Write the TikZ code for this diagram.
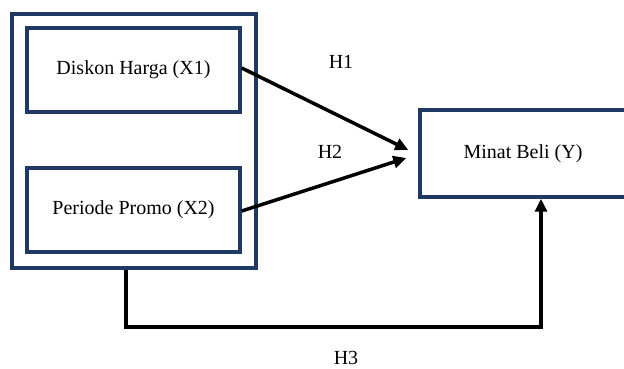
\documentclass[tikz,border=0pt]{standalone}
\usepackage{fontspec}
\setmainfont{Liberation Serif}
\usepackage{xcolor}
\usetikzlibrary{arrows.meta,positioning}
\definecolor{modelNavy}{HTML}{203864}

\begin{document}
\begin{tikzpicture}[
  x=1pt, y=1pt,
  every node/.style={align=center, font=\fontsize{20}{24}\selectfont},
  varbox/.style={draw=modelNavy, line width=3.5pt, minimum width=213pt, minimum height=84pt, inner sep=0pt},
  groupbox/.style={draw=modelNavy, line width=3.5pt, minimum width=244pt, minimum height=254pt, inner sep=0pt},
  ybox/.style={draw=modelNavy, line width=3.5pt, minimum width=212pt, minimum height=87pt, inner sep=0pt},
  hyp/.style={-{Triangle[length=13pt,width=12pt]}, line width=3.5pt, black},
]
  \useasboundingbox (0,0) rectangle (624,369);
  \node[groupbox] (grp) at (134,228) {};
  \node[varbox] (x1) at (133.5,299) {Diskon Harga (X1)};
  \node[varbox] (x2) at (133.5,159) {Periode Promo (X2)};
  \node[ybox] (y) at (526,215.5) {\hspace*{-6pt}Minat Beli (Y)};

  \node (h1) at (341,307) {H1};
  \node (h2) at (330,217) {H2};
  \node (h3) at (346,11) {H3};

  \draw[hyp] ([yshift=2pt]x1.east) -- ([xshift=-10pt,yshift=3.5pt]y.west);
  \draw[hyp] ([yshift=-1pt]x2.east) -- ([xshift=-12pt,yshift=-4.5pt]y.west);
  \draw[hyp] ([xshift=-8pt]grp.south) |- (335,42) -| ([xshift=15pt]y.south);
\end{tikzpicture}
\end{document}
